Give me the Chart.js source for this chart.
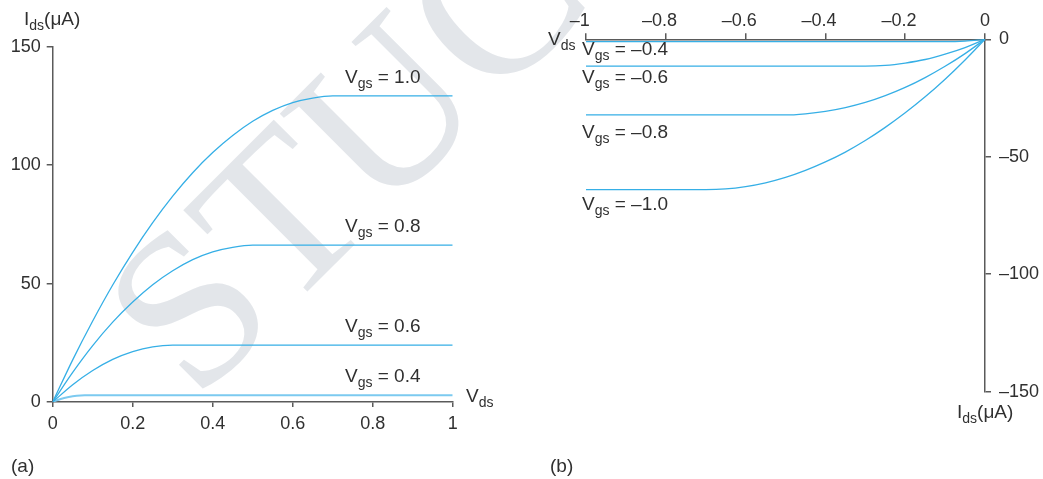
<!DOCTYPE html>
<html>
<head>
<meta charset="utf-8">
<script src="https://cdn.jsdelivr.net/npm/chart.js@4.4.1/dist/chart.umd.min.js"></script>
<style>
  html, body { margin: 0; padding: 0; background: #ffffff; }
  #wrap { position: relative; width: 1043px; height: 479px; overflow: hidden; }
  #wrap canvas { position: absolute; left: 0; top: 0; }
</style>
</head>
<body>
<div id="wrap">
  <canvas id="nmos" width="1043" height="479"></canvas>
  <canvas id="pmos" width="1043" height="479"></canvas>
</div>
<script>
// ---- (a) nMOS characteristics: Ids (uA) versus Vds (V) ----
const vdsN10 = [0, 0.05, 0.1, 0.15, 0.2, 0.25, 0.3, 0.35, 0.4, 0.45, 0.5, 0.55, 0.6, 0.65, 0.7, 0.8, 0.9, 1.0];
const idsN10 = [0, 17.8, 34.2, 49.4, 63.2, 75.7, 86.9, 96.8, 105.3, 112.5, 118.5, 123.1, 126.4, 128.3, 129.2, 129.2, 129.2, 129.2];
const vdsN08 = [0, 0.05, 0.1, 0.15, 0.2, 0.25, 0.3, 0.35, 0.4, 0.45, 0.5, 0.6, 0.8, 1.0];
const idsN08 = [0, 12.5, 23.8, 33.7, 42.2, 49.5, 55.4, 60.1, 63.4, 65.3, 66.2, 66.2, 66.2, 66.2];
const vdsN06 = [0, 0.05, 0.1, 0.15, 0.2, 0.25, 0.3, 0.4, 0.6, 0.8, 1.0];
const idsN06 = [0, 7.3, 13.3, 18.0, 21.3, 23.3, 24.0, 24.0, 24.0, 24.0, 24.0];
const vdsN04 = [0, 0.02, 0.04, 0.06, 0.08, 0.2, 0.5, 1.0];
const idsN04 = [0, 1.3, 2.1, 2.6, 2.8, 2.8, 2.8, 2.8];
const vgsN = ['1.0', '0.8', '0.6', '0.4'];
const levelN = [129.2, 66.2, 24.0, 2.8];
const xTicksN = [0, 0.2, 0.4, 0.6, 0.8, 1];
const xTickLabelsN = ['0', '0.2', '0.4', '0.6', '0.8', '1'];
const yTicksN = [0, 50, 100, 150];
const yTickLabelsN = ['0', '50', '100', '150'];

// ---- (b) pMOS characteristics: Ids (uA) versus Vds (V) ----
const vdsP10 = [0, -0.05, -0.1, -0.15, -0.2, -0.25, -0.3, -0.35, -0.4, -0.45, -0.5, -0.55, -0.6, -0.65, -0.7, -0.8, -0.9, -1.0];
const idsP10 = [0, -8.8, -17.0, -24.5, -31.3, -37.5, -43.1, -48.0, -52.2, -55.8, -58.8, -61.1, -62.7, -63.7, -64.0, -64.0, -64.0, -64.0];
const vdsP08 = [0, -0.05, -0.1, -0.15, -0.2, -0.25, -0.3, -0.35, -0.4, -0.45, -0.5, -0.6, -0.8, -1.0];
const idsP08 = [0, -6.1, -11.5, -16.3, -20.5, -24.0, -26.9, -29.1, -30.7, -31.7, -32.2, -32.2, -32.2, -32.2];
const vdsP06 = [0, -0.05, -0.1, -0.15, -0.2, -0.25, -0.3, -0.4, -0.6, -0.8, -1.0];
const idsP06 = [0, -3.5, -6.3, -8.6, -10.1, -11.1, -11.4, -11.4, -11.4, -11.4, -11.4];
const vdsP04 = [0, -0.05, -0.1, -0.2, -0.5, -1.0];
const idsP04 = [0, -0.75, -1.0, -1.0, -1.0, -1.0];
const vgsP = ['\u20130.4', '\u20130.6', '\u20130.8', '\u20131.0'];
const levelP = [-1.0, -11.4, -32.2, -64.0];
const xTicksP = [-1, -0.8, -0.6, -0.4, -0.2, 0];
const xTickLabelsP = ['\u20131', '\u20130.8', '\u20130.6', '\u20130.4', '\u20130.2', '0'];
const yTicksP = [-150, -100, -50, 0];
const yTickLabelsP = ['\u2013150', '\u2013100', '\u201350', '0'];

// ---- styling ----
const FONT = '"Liberation Sans", Arial, Helvetica, sans-serif';
const TEXT = '#303030';
const AXIS = '#5a5a5a';
const CURVE = '#36afe6';
const CURVE_LIGHT = '#7ccaf0';
const LABEL_SIZE = 19;
const SUB_SIZE = 14;

function pts(xs, ys) { return xs.map((x, i) => ({ x: x, y: ys[i] })); }

function curve(xs, ys, color, width) {
  return {
    data: pts(xs, ys),
    borderColor: color,
    borderWidth: width,
    pointRadius: 0,
    fill: false,
    cubicInterpolationMode: 'monotone'
  };
}

// text with a lowered subscript: parts = [[text, isSub], ...]
function drawRich(ctx, x, y, parts) {
  ctx.save();
  ctx.fillStyle = TEXT;
  ctx.textBaseline = 'alphabetic';
  ctx.textAlign = 'left';
  let cx = x;
  for (const [t, sub] of parts) {
    ctx.font = (sub ? SUB_SIZE : LABEL_SIZE) + 'px ' + FONT;
    ctx.fillText(t, cx, sub ? y + 5 : y);
    cx += ctx.measureText(t).width;
  }
  ctx.restore();
}

function axisCommon(ticks, labels, tickLength, pad, afterFit) {
  return {
    type: 'linear',
    min: ticks[0],
    max: ticks[ticks.length - 1],
    afterBuildTicks: s => { s.ticks = ticks.map(v => ({ value: v })); },
    afterFit: afterFit,
    ticks: {
      font: { family: FONT, size: 18 },
      color: TEXT,
      padding: pad,
      maxRotation: 0,
      autoSkip: false,
      callback: (v, i) => labels[i]
    },
    grid: {
      display: true,
      drawOnChartArea: false,
      drawTicks: true,
      tickLength: tickLength,
      color: AXIS,
      lineWidth: 1.5
    },
    border: { display: true, color: AXIS, width: 1.5 }
  };
}

// faint diagonal lettering behind panel (a)
const stampPlugin = {
  id: 'stamp',
  beforeDraw(chart) {
    const ctx = chart.ctx;
    ctx.save();
    ctx.translate(196, 403);
    ctx.rotate(-Math.PI / 4);
    ctx.font = '222px "Liberation Serif", "DejaVu Serif", serif';
    ctx.fillStyle = '#e3e6ea';
    ctx.textBaseline = 'alphabetic';
    ctx.fillText('STUCOR', 0, 0);
    ctx.restore();
  }
};

const nmosText = {
  id: 'nmosText',
  afterDraw(chart) {
    const ctx = chart.ctx;
    const ys = chart.scales.y;
    drawRich(ctx, 24, 25, [['I', false], ['ds', true], ['(\u03bcA)', false]]);
    drawRich(ctx, 466, 402, [['V', false], ['ds', true]]);
    levelN.forEach((lv, i) => {
      drawRich(ctx, 345, ys.getPixelForValue(lv) - 13, [['V', false], ['gs', true], [' = ' + vgsN[i], false]]);
    });
    drawRich(ctx, 11, 472, [['(a)', false]]);
  }
};

const pmosText = {
  id: 'pmosText',
  afterDraw(chart) {
    const ctx = chart.ctx;
    const ys = chart.scales.y;
    const gap = [13.3, 17.3, 23.3, 20.7];
    drawRich(ctx, 548, 45, [['V', false], ['ds', true]]);
    drawRich(ctx, 957, 418, [['I', false], ['ds', true], ['(\u03bcA)', false]]);
    levelP.forEach((lv, i) => {
      drawRich(ctx, 582, ys.getPixelForValue(lv) + gap[i], [['V', false], ['gs', true], [' = ' + vgsP[i], false]]);
    });
    drawRich(ctx, 550, 472, [['(b)', false]]);
  }
};

const base = {
  responsive: false,
  animation: false,
  devicePixelRatio: 1,
  plugins: { legend: { display: false }, tooltip: { enabled: false } },
  elements: { line: { tension: 0 } }
};

// the top-axis labels sit with their digits over the tick, the dash hanging to the left
const topLabel = (v, i) => (xTickLabelsP[i].startsWith('\u2013') ? xTickLabelsP[i] + '\u2002\u2009' : xTickLabelsP[i]);

new Chart(document.getElementById('nmos'), {
  type: 'line',
  data: {
    datasets: [
      curve(vdsN10, idsN10, CURVE, 1.3),
      curve(vdsN08, idsN08, CURVE, 1.3),
      curve(vdsN06, idsN06, CURVE, 1.3),
      curve(vdsN04, idsN04, CURVE_LIGHT, 2)
    ]
  },
  options: Object.assign({}, base, {
    layout: { padding: { left: 0, top: 46.7, right: 590.3, bottom: 47 } },
    scales: {
      x: Object.assign(axisCommon(xTicksN, xTickLabelsN, 5, 6, s => { s.height = 30; }), { position: 'bottom' }),
      y: Object.assign(axisCommon(yTicksN, yTickLabelsN, 6, 6, s => { s.width = 52.7; }), { position: 'left' })
    }
  }),
  plugins: [stampPlugin, nmosText]
});

const xP = axisCommon(xTicksP, xTickLabelsP, 6, 1.5, s => { s.height = 39.3; });
xP.ticks.callback = topLabel;

new Chart(document.getElementById('pmos'), {
  type: 'line',
  data: {
    datasets: [
      curve(vdsP04, idsP04, CURVE, 1.3),
      curve(vdsP06, idsP06, CURVE, 1.3),
      curve(vdsP08, idsP08, CURVE, 1.3),
      curve(vdsP10, idsP10, CURVE, 1.3)
    ]
  },
  options: Object.assign({}, base, {
    layout: { padding: { left: 586, top: 0, right: 0, bottom: 87.3 } },
    scales: {
      x: Object.assign(xP, { position: 'top' }),
      y: Object.assign(axisCommon(yTicksP, yTickLabelsP, 6, 8, s => { s.width = 58; }), { position: 'right' })
    }
  }),
  plugins: [pmosText]
});
</script>
</body>
</html>
